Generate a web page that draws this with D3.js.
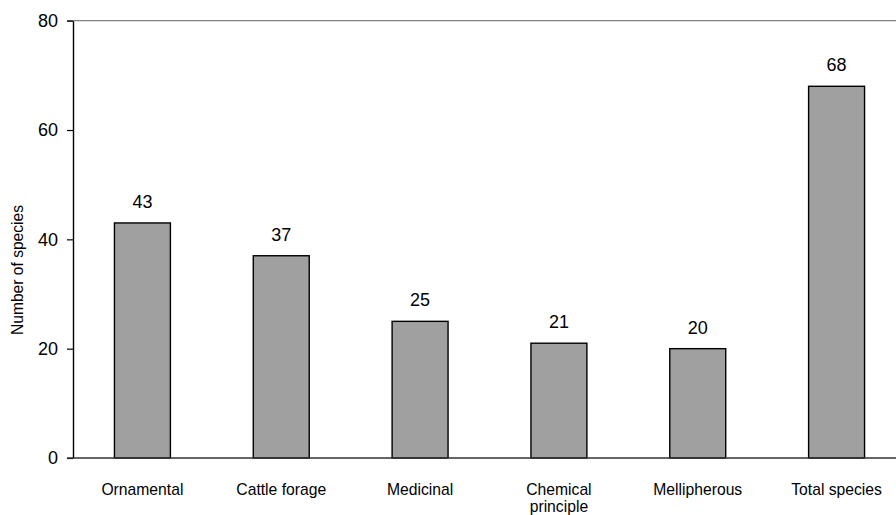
<!DOCTYPE html>
<html>
<head>
  <title>Number of species by use</title>
  <script src="https://d3js.org/d3.v7.min.js"></script>
  <style>
    body { margin: 0; background: #fff; }
    text { font-family: Arial, "Liberation Sans", sans-serif; fill: #000; }
  </style>
</head>
<body>
  <div id="chart"></div>

  <script>
    var categories = [["Ornamental"], ["Cattle forage"], ["Medicinal"], ["Chemical", "principle"], ["Mellipherous"], ["Total species"]];
    var values = [43, 37, 25, 21, 20, 68];
    var yTicks = [0, 20, 40, 60, 80];

    var width = 896, height = 515;
    var plotLeft = 73, plotRight = 906, plotTop = 20.7, plotBottom = 458;

    var svg = d3.select("#chart")
      .append("svg")
      .attr("width", width)
      .attr("height", height);

    var x = d3.scaleBand()
      .domain(d3.range(categories.length))
      .range([plotLeft, plotRight])
      .padding(0);

    var y = d3.scaleLinear()
      .domain([0, 80])
      .range([plotBottom, plotTop]);

    var barW = x.bandwidth() * 0.403;

    // top border
    svg.append("line")
      .attr("x1", plotLeft - 6).attr("x2", width)
      .attr("y1", y(80)).attr("y2", y(80))
      .attr("stroke", "#808080").attr("stroke-width", 1.3);

    // bars
    svg.selectAll("rect.bar")
      .data(values)
      .enter()
      .append("rect")
      .attr("class", "bar")
      .attr("x", function(d, i) { return x(i) + x.bandwidth() / 2 - barW / 2; })
      .attr("y", function(d) { return y(d); })
      .attr("width", barW)
      .attr("height", function(d) { return y(0) - y(d); })
      .attr("fill", "#a0a0a0")
      .attr("stroke", "#000")
      .attr("stroke-width", 1.4);

    // value labels
    svg.selectAll("text.val")
      .data(values)
      .enter()
      .append("text")
      .attr("class", "val")
      .attr("x", function(d, i) { return x(i) + x.bandwidth() / 2; })
      .attr("y", function(d) { return y(d) - 15; })
      .attr("text-anchor", "middle")
      .attr("font-size", "18px")
      .text(function(d) { return d; });

    // y axis
    var yAxis = svg.append("g")
      .attr("transform", "translate(" + plotLeft + ",0)")
      .call(d3.axisLeft(y).tickValues(yTicks).tickSize(6).tickPadding(9).tickSizeOuter(0));
    yAxis.select(".domain").attr("stroke", "#000").attr("stroke-width", 1.4);
    yAxis.selectAll(".tick line").attr("stroke", "#000").attr("stroke-width", 1.2);
    yAxis.selectAll(".tick text")
      .attr("font-size", "18px")
      .attr("font-family", "Arial, 'Liberation Sans', sans-serif")
      .attr("fill", "#000");

    // x baseline
    svg.append("line")
      .attr("x1", plotLeft - 6).attr("x2", width)
      .attr("y1", y(0)).attr("y2", y(0))
      .attr("stroke", "#333").attr("stroke-width", 1.3);

    // category labels
    var cat = svg.selectAll("text.cat")
      .data(categories)
      .enter()
      .append("text")
      .attr("class", "cat")
      .attr("x", function(d, i) { return x(i) + x.bandwidth() / 2; })
      .attr("y", 495)
      .attr("text-anchor", "middle")
      .attr("font-size", "15.7px");
    cat.selectAll("tspan")
      .data(function(d) { return d; })
      .enter()
      .append("tspan")
      .attr("x", function() { return d3.select(this.parentNode).attr("x"); })
      .attr("dy", function(d, j) { return j === 0 ? 0 : 17; })
      .text(function(d) { return d; });

    // y axis title
    svg.append("text")
      .attr("transform", "translate(23,270) rotate(-90)")
      .attr("text-anchor", "middle")
      .attr("font-size", "15.6px")
      .text("Number of species");
  </script>
</body>
</html>
